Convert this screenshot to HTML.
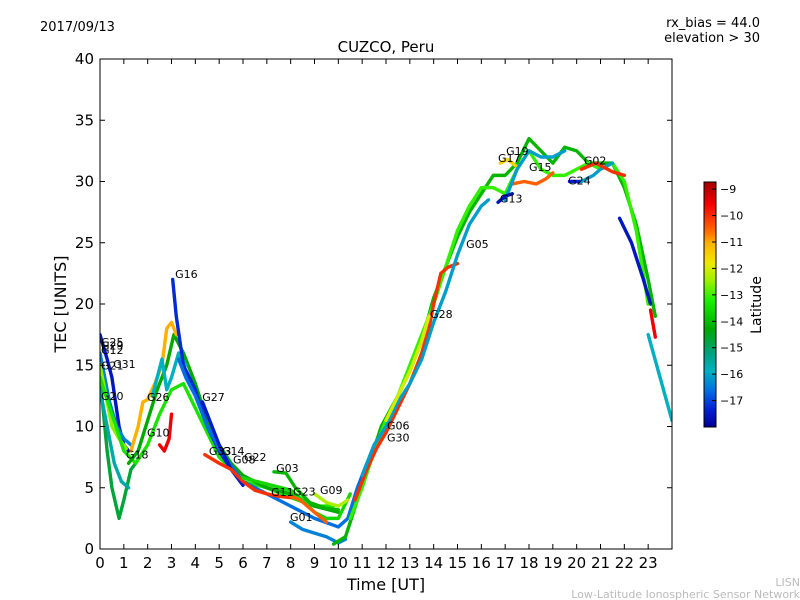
<!DOCTYPE html>
<html><head><meta charset="utf-8"><style>
body{margin:0;background:#fff}
svg{display:block;font-family:"DejaVu Sans","Liberation Sans",sans-serif}
</style></head><body>
<svg id="chart" width="800" height="600" viewBox="0 0 800 600">
<defs>
<linearGradient id="cbgrad" x1="0" y1="0" x2="0" y2="1">
<stop offset="0" stop-color="#a00000"/><stop offset="0.09" stop-color="#f00000"/><stop offset="0.2" stop-color="#ff6a00"/><stop offset="0.25" stop-color="#ffb000"/><stop offset="0.33" stop-color="#f0e800"/><stop offset="0.4" stop-color="#a0f000"/><stop offset="0.48" stop-color="#20f000"/><stop offset="0.6" stop-color="#00a800"/><stop offset="0.7" stop-color="#00a080"/><stop offset="0.77" stop-color="#00b0c0"/><stop offset="0.85" stop-color="#0070e0"/><stop offset="0.93" stop-color="#0020d0"/><stop offset="1" stop-color="#000090"/>
</linearGradient>
<clipPath id="plotclip"><rect x="100" y="59" width="572" height="490"/></clipPath>
</defs>
<text x="40" y="31" font-size="13">2017/09/13</text>
<text x="760" y="27" font-size="13" text-anchor="end">rx_bias = 44.0</text>
<text x="760" y="42" font-size="13" text-anchor="end">elevation &gt; 30</text>
<text x="386" y="52" font-size="15" text-anchor="middle">CUZCO, Peru</text>
<g id="series" clip-path="url(#plotclip)"></g>
<g id="labels"></g>
<rect x="100" y="59" width="572" height="490" fill="none" stroke="#000" stroke-width="1"/>
<g id="axes"></g>
<text x="386" y="590" font-size="16" text-anchor="middle">Time [UT]</text>
<text transform="translate(66,304) rotate(-90)" font-size="16" text-anchor="middle">TEC [UNITS]</text>
<rect x="704" y="182" width="12" height="245" fill="url(#cbgrad)" stroke="#000" stroke-width="1"/>
<g id="cbticks"></g>
<text transform="translate(761,305) rotate(-90)" font-size="14" text-anchor="middle">Latitude</text>
<text x="800" y="586" font-size="11" fill="#bbb" text-anchor="end">LISN</text>
<text x="800" y="598" font-size="11" fill="#bbb" text-anchor="end">Low-Latitude Ionospheric Sensor Network</text>
</svg>
<script>
const xTicks=[0,1,2,3,4,5,6,7,8,9,10,11,12,13,14,15,16,17,18,19,20,21,22,23];
const yTicks=[0,5,10,15,20,25,30,35,40];
const cbTicks=[-9,-10,-11,-12,-13,-14,-15,-16,-17];
const tracks=[
 {lat:-14.6,t:[0,0.3,0.5,0.8,1.0,1.3,1.5],v:[14,8,5,2.5,4,6.5,7]},
 {lat:-15.5,t:[0,0.2,0.4,0.6,0.9,1.2],v:[13,11,9,7,5.5,5]},
 {lat:-17.5,t:[0,0.3,0.5,0.8,1.0,1.2],v:[17.5,15.5,14,10,8.5,8]},
 {lat:-16.3,t:[0,0.2,0.4,0.7,1.0,1.3],v:[16,14,12,10,9,8.5]},
 {lat:-12.5,t:[0,0.3,0.5,0.8,1.1],v:[15,12,10,9,8.2]},
 {lat:-13.3,t:[0,0.5,1,1.5,2,2.5,3,3.5,4,4.5,5,5.5,6,7,8,9,9.8],v:[14,11,8,7,8.5,11,13,13.5,11.5,9.5,7.5,6.5,5.5,5,4.2,3.5,3.5]},
 {lat:-14.2,t:[1.2,1.6,2,2.4,2.8,3.1,3.5,4,4.5,5,5.5,6,7,8,9,10],v:[7,8,10.5,13,15,17.5,16,13.5,10.5,8.5,7,6,5,4.5,3.5,3]},
 {lat:-11,t:[1.3,1.6,1.8,2,2.3,2.6,2.8,3.0,3.2],v:[8,10,12,12.2,13.5,15,18,18.5,17.5]},
 {lat:-9.5,t:[2.5,2.7,2.9,3.0],v:[8.5,8,9,11]},
 {lat:-15.8,t:[2.2,2.4,2.6,2.8,3.0,3.3,3.6],v:[12.5,14,15.5,13,14,16,15]},
 {lat:-17.2,t:[3.05,3.2,3.5,4,4.5,5,5.5,6],v:[22,19,15,13,10,8,6.5,5.5]},
 {lat:-16.5,t:[3.3,3.6,4,4.5,5,5.5,6,7,8,9,10,10.4,10.8,11.2,11.6],v:[15.5,14,12.5,10,8.2,6.8,5.5,4.5,3.5,2.5,1.8,2.5,5,7,8.5]},
 {lat:-17.4,t:[4.3,4.6,5,5.5,6],v:[12,10.5,8.5,6.5,5.2]},
 {lat:-10,t:[4.4,5,5.5,6,6.5,7,7.5,8],v:[7.7,7,6.5,5.5,4.8,4.5,4.3,4.2]},
 {lat:-13.5,t:[6,7,8,8.5,9,9.5,10,10.5],v:[5.8,5.3,4.8,4,3,2.5,2.5,4.5]},
 {lat:-14,t:[7.3,7.8,8.2,8.8,9.5,10],v:[6.3,6.2,5,3.8,3.3,3.2]},
 {lat:-10.5,t:[8,8.4,9,9.5],v:[4.3,4,3,2.2]},
 {lat:-12.3,t:[9,9.5,10,10.4],v:[4.5,3.8,3.5,4]},
 {lat:-16.3,t:[8,8.5,9,9.5,10,10.3],v:[2.2,1.6,1.3,1,0.5,0.8]},
 {lat:-14,t:[9.8,10.3,10.8,11.3,11.8,12.5,13,13.5,14,14.5,15,15.5,16,16.5,17,17.5,18,18.5,19,19.5,20,20.5,21,21.5,22,22.5,23,23.3],v:[0.4,1,4,7,10,12.5,14.5,17,20.5,23,25.5,27.5,29,30.5,30.5,31.5,33.5,32.5,31.5,32.8,32.5,31.5,31.5,31.5,29.5,26.5,22,19]},
 {lat:-13,t:[10.5,11,11.5,12,12.5,13,13.5,14,14.5,15,15.5,16,16.5,17,17.5,18,18.5,19,19.5,20,20.5,21,21.5,22,22.5,23],v:[2.5,5,8,10.5,12.5,15,17.5,20,23,26,28,29.5,29.5,29,31,32.5,31,30.5,30.5,31,31.5,31,31.5,30,26,20]},
 {lat:-10,t:[10.7,11.2,11.6,12,12.5,13,13.5,13.8,14,14.3,14.6,15],v:[4,6.5,8.2,9.5,11.5,13.5,16,18,20,22.5,23,23.3]},
 {lat:-16,t:[11,11.5,12,12.5,13,13.5,14,14.5,15,15.5,16,16.3],v:[6,8.5,10,12,13.5,15.5,18.5,21,24,26.5,28,28.5]},
 {lat:-12,t:[12,12.5,13,13.5,13.8],v:[10.5,12.5,14.5,17,19]},
 {lat:-11.5,t:[16.8,17.1,17.5],v:[31.5,31.8,31.2]},
 {lat:-10.5,t:[17.3,17.8,18.3,18.7,19.0],v:[29.8,30,29.8,30.2,30.7]},
 {lat:-16,t:[17,17.5,18,18.5,19,19.5],v:[28.5,31,32.5,32,32,32.5]},
 {lat:-17.5,t:[16.7,17,17.3],v:[28.3,28.8,29]},
 {lat:-17.3,t:[19.7,20.2],v:[30,30]},
 {lat:-16,t:[20.2,20.7,21,21.5],v:[30,30.5,31,31.5]},
 {lat:-10,t:[20.2,20.8,21.5,22],v:[31,31.5,30.8,30.5]},
 {lat:-17.5,t:[21.8,22.3,22.8,23.1],v:[27,25,22,20]},
 {lat:-9.5,t:[23.1,23.3],v:[19.5,17.3]},
 {lat:-15.8,t:[23,23.5,24],v:[17.5,14,10.5]}
];
const labelNames=["G16","G27","G20","G26","G10","G18","G33","G14","G08","G22","G03","G11","G23","G09","G01","G25","G29","G12","G21","G31","G06","G30","G28","G05","G13","G17","G19","G15","G24","G02"];
const labelT=[3.15,4.29,0.04,1.97,1.97,1.09,4.57,5.12,5.58,6.04,7.39,7.18,8.1,9.23,7.97,0.04,0.04,0.04,0.04,0.55,12.04,12.04,13.85,15.36,16.78,16.7,17.04,18.0,19.64,20.3];
const labelV=[22.45,12.4,12.5,12.4,9.5,7.7,8.0,8.0,7.3,7.5,6.6,4.65,4.7,4.8,2.6,16.9,16.6,16.25,15.0,15.1,10.1,9.1,19.2,24.9,28.6,31.9,32.5,31.2,30.1,31.7];
const NS='http://www.w3.org/2000/svg';
const X=t=>100+t*(572/24), Y=v=>549-v*(490/40);
const cmap=[[-8.7,[160,0,0]],[-9.5,[240,0,0]],[-10.6,[255,106,0]],[-11,[255,176,0]],[-11.8,[240,232,0]],[-12.4,[160,240,0]],[-13.1,[32,240,0]],[-14.2,[0,168,0]],[-15.1,[0,160,128]],[-15.8,[0,176,192]],[-16.5,[0,112,224]],[-17.3,[0,32,208]],[-18,[0,0,144]]];
function color(l){for(let i=0;i<cmap.length-1;i++){const a=cmap[i],b=cmap[i+1];if(l<=a[0]&&l>=b[0]){const f=(a[0]-l)/(a[0]-b[0]);const c=a[1].map((x,k)=>Math.round(x+(b[1][k]-x)*f));return `rgb(${c})`;}}return l>-8.7?'rgb(160,0,0)':'rgb(0,0,144)';}
const sg=document.getElementById('series');
tracks.forEach((tr,i)=>{const p=document.createElementNS(NS,'polyline');
p.setAttribute('points',tr.t.map((t,j)=>X(t)+','+Y(tr.v[j])).join(' '));
p.setAttribute('fill','none');p.setAttribute('stroke',color(tr.lat));p.setAttribute('stroke-width','3.4');p.setAttribute('stroke-linejoin','round');p.setAttribute('stroke-linecap','round');


sg.appendChild(p);});
const lg=document.getElementById('labels');
labelNames.forEach((n,i)=>{const t=document.createElementNS(NS,'text');t.setAttribute('x',X(labelT[i]));t.setAttribute('y',Y(labelV[i])+4);t.setAttribute('font-size','11');t.textContent=n;


lg.appendChild(t);});
const ax=document.getElementById('axes');
function add(tag,attrs,txt){const e=document.createElementNS(NS,tag);for(const k in attrs)e.setAttribute(k,attrs[k]);if(txt!==undefined)e.textContent=txt;ax.appendChild(e);return e;}
xTicks.forEach(t=>{const x=X(t);add('line',{x1:x,y1:549,x2:x,y2:544,stroke:'#000'});add('line',{x1:x,y1:59,x2:x,y2:64,stroke:'#000'});
const e=add('text',{x:x,y:568,'font-size':'15','text-anchor':'middle'},t);

});
yTicks.forEach(v=>{const y=Y(v);add('line',{x1:100,y1:y,x2:105,y2:y,stroke:'#000'});add('line',{x1:667,y1:y,x2:672,y2:y,stroke:'#000'});
const e=add('text',{x:94,y:y+5,'font-size':'15','text-anchor':'end'},v);

});
const cg=document.getElementById('cbticks');
cbTicks.forEach(l=>{const y=182+(-8.73-l)/(9.27)*245;
const ln=document.createElementNS(NS,'line');ln.setAttribute('x1',712);ln.setAttribute('x2',716);ln.setAttribute('y1',y);ln.setAttribute('y2',y);ln.setAttribute('stroke','#000');cg.appendChild(ln);
const tx=document.createElementNS(NS,'text');tx.setAttribute('x',720);tx.setAttribute('y',y+4);tx.setAttribute('font-size','11');tx.textContent='\u2212'+Math.abs(l);


cg.appendChild(tx);});
</script>
</body></html>
